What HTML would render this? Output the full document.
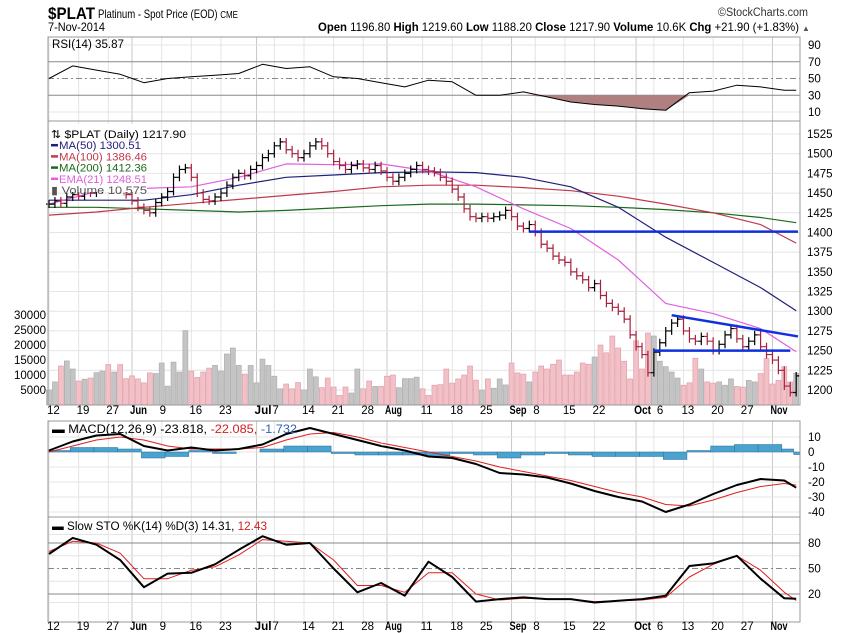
<!DOCTYPE html>
<html><head><meta charset="utf-8"><style>
body{margin:0;background:#fff;}
svg{display:block;font-family:"Liberation Sans",sans-serif;}
</style></head><body>
<svg id="c" width="850" height="633" viewBox="0 0 850 633" xmlns="http://www.w3.org/2000/svg">
<defs><clipPath id="plotclip"><rect x="48" y="0" width="752" height="633"/></clipPath></defs>
<rect x="0" y="0" width="850" height="633" fill="#fff"/>
<g id="grid"></g>
<g id="vol"></g>
<g id="price"></g>
<g id="ind" clip-path="url(#plotclip)"></g>
<g id="frames"></g>
<g id="labels"></g>
<!-- header -->
<text x="48" y="19" font-size="17" font-weight="bold" textLength="47" lengthAdjust="spacingAndGlyphs">$PLAT</text>
<text x="98" y="18" font-size="12" textLength="140" lengthAdjust="spacingAndGlyphs">Platinum  - Spot Price (EOD) <tspan font-size="10">CME</tspan></text>
<text x="48" y="31" font-size="12" textLength="57" lengthAdjust="spacingAndGlyphs">7-Nov-2014</text>
<text x="718" y="16" font-size="11.5" textLength="90" lengthAdjust="spacingAndGlyphs" fill="#333">©StockCharts.com</text>
<text x="318" y="31" font-size="12" textLength="481" lengthAdjust="spacingAndGlyphs"><tspan font-weight="bold">Open</tspan> 1196.80 <tspan font-weight="bold">High</tspan> 1219.60 <tspan font-weight="bold">Low</tspan> 1188.20 <tspan font-weight="bold">Close</tspan> 1217.90 <tspan font-weight="bold">Volume</tspan> 10.6K <tspan font-weight="bold">Chg</tspan> +21.90 (+1.83%)</text>
<text x="802" y="31" font-size="8" fill="#555">▲</text>
</svg>
<script>
const closes=[1436,1440,1437,1445,1448,1446,1452,1450,1455,1458,1456,1460,1455,1448,
1440,1432,1428,1425,1438,1445,1452,1470,1480,1482,1470,1450,1442,1440,1445,1450,1460,1470,1475,1472,1480,
1485,1495,1500,1510,1515,1505,1500,1495,1500,1510,1515,1510,1500,1490,1485,1480,1485,1487,1482,1480,1485,1478,
1470,1465,1470,1475,1480,1485,1480,1478,1476,1470,1465,1455,1445,1430,1420,1418,1420,1418,1420,1422,1428,
1420,1408,1405,1410,1400,1385,1380,1370,1365,1362,1350,1345,1340,1330,1335,1320,1310,1305,1300,1290,1270,
1255,1245,1222,1248,1260,1275,1285,1290,1275,1265,1262,1268,1262,1250,1258,1270,1278,1265,1255,1262,1270,1255,1245,
1238,1225,1205,1196.8,1217.9];
const volumes=[5,7.7,13,14.7,12,8,8.6,9,10.8,11.3,13.5,11,13.5,8.8,9.7,8.7,7.4,10.7,10.5,14,6.3,14.3,11,24.8,11.3,9.2,11,12.3,13.2,11.3,17,19,13.2,10.3,13.2,7.4,15.3,13.2,9.6,5.4,7,5.4,7.5,5,12,9.4,5.8,9,6,3.2,6,4,12,5.4,8,6.2,6.2,9.6,10,5.8,8.8,8.8,9.3,5.4,3.2,
6.6,6.8,12,7.3,8.7,10,13,8.3,5,8.7,5.6,8.7,6.7,14,10.7,10.3,7.7,11,13,12,13.6,15,10,10,11,14,13.6,16,20,17.4,23,19,14.6,8.7,21.4,12,24,23,14.6,12.8,11,9,6.6,7.4,15.6,12,7.7,7.3,7.7,6.6,8.7,6.2,6,8.2,7.7,10.5,15.5,7,8.2,12.8,7.7,10.6];
const ma50=[1441,1441,1441,1448,1460,1470,1473,1476,1477,1476,1470,1458,1432,1394,1362,1330,1300.5];
const ma100=[1422,1426,1432,1437,1442,1447,1452,1458,1460,1460,1457,1453,1446,1436,1425,1410,1386.5];
const ma200=[1432,1432,1430,1428,1426,1428,1431,1434,1436,1436,1435,1434,1432,1429,1425,1419,1412.4];
const ema21=[1436,1452,1456,1458,1470,1487,1486,1487,1478,1458,1430,1405,1365,1310,1297,1278,1248.5];
const rsi=[50,65,60,55,45,50,52,54,56,67,62,64,52,50,45,40,48,46,30,30,34,28,22,19,17,14,12,33,35,42,40,36,35.9];
const macd=[1,7,11,12,4,1,3,1,2,5,12,16,12,8,4,1,-3,-4,-8,-14,-15,-17,-21,-26,-30,-33,-40,-35,-28,-22,-18,-19,-23.8];
const signal=[0,4,8,10,8,4,2,2,2,3,8,12,13,10,6,3,0,-3,-6,-10,-13,-16,-19,-23,-27,-30,-35,-36,-32,-27,-23,-21,-22.1];
const stoK=[67,86,78,60,28,44,45,55,72,88,78,80,50,22,33,18,58,40,11,14,16,14,14,10,12,14,18,53,56,65,38,15,14.3];
const stoD=[70,82,80,68,38,38,48,52,66,84,82,80,60,30,30,22,45,45,20,13,15,14,14,11,12,13,16,40,55,65,48,22,12.4];
const tickIdx=[0,5,10,14,19,24,29,35,38,43,48,53,57,63,68,73,78,82,87,92,99,102,107,112,117,122];
const tickText=["12","19","27","Jun","9","16","23","Jul","7","14","21","28","Aug","11","18","25","Sep","8","15","22","Oct","6","13","20","27","Nov"];
const priceTicks=[1200,1225,1250,1275,1300,1325,1350,1375,1400,1425,1450,1475,1500,1525];
const volTicks=[5000,10000,15000,20000,25000,30000];
const rsiTicks=[90,70,50,30,10];
const macdTicks=[10,0,-10,-20,-30,-40];
const stoTicks=[80,50,20];
const resLine=[1401];const supLine=[1250];const trendPts=[1295,1268];

const NS="http://www.w3.org/2000/svg";
const L=48,R=800;
const xi=i=>49+5.93*i;
const py=p=>134+(1525-p)*0.7877;
const vy=v=>405-v*3;
const ry=v=>45+(90-v)*0.8375;
const my=v=>452-v*1.5;
const sy=v=>543+(80-v)*0.85;
const sIdx=[];for(let k=0;k<=124;k+=4)sIdx.push(k);sIdx.push(126);
const mIdx=[];for(let k=0;k<=120;k+=8)mIdx.push(k);mIdx.push(126);
function mk(tag,at,parent){const e=document.createElementNS(NS,tag);for(const k in at)e.setAttribute(k,at[k]);document.getElementById(parent).appendChild(e);return e;}
function txt(s,at,parent){const e=mk('text',at,parent);e.textContent=s;return e;}

const panels=[[37,121],[121,405],[421,517],[517,622]];
tickIdx.forEach((ti,k)=>{const x=xi(ti);const month=isNaN(+tickText[k]);
 panels.forEach(p=>{const g=mk('line',{x1:x,x2:x,y1:p[0],y2:p[1],stroke:month?'#c8c8c8':'#e4e4e4','stroke-width':1},'grid');
 
 });
 [414,630].forEach(yy=>{const at={x:x-2,y:yy,'font-size':11.5,'font-weight':month?'bold':'normal'};
 if(month){at.textLength=17;at.lengthAdjust='spacingAndGlyphs';}
 if(tickText[k]=="6"&&k==21)at.x=x+3;
 const t=txt(tickText[k],at,'labels');
 
 });
});
priceTicks.forEach(p=>{const g=mk('line',{x1:L,x2:R,y1:py(p),y2:py(p),stroke:'#e4e4e4'},'grid');
 
 
 const t=txt(p,{x:807,y:py(p)+4,'font-size':11.5},'labels');
 
 });
volTicks.forEach(v=>{const t=txt(v,{x:46,y:vy(v/1000)+4,'font-size':11.5,'text-anchor':'end'},'labels');
 
 });
rsiTicks.forEach(v=>{const t=txt(v,{x:808,y:ry(v)+4,'font-size':11.5},'labels');
 
 
 const g=mk('line',{x1:L,x2:R,y1:ry(v),y2:ry(v),stroke:(v==70||v==30||v==50)?'#888':'#e4e4e4','stroke-dasharray':v==50?'6,3,2,3':'none'},'grid');
 
 });
macdTicks.forEach(v=>{const t=txt(v,{x:808,y:my(v)+4,'font-size':11.5},'labels');
 
 
 const g=mk('line',{x1:L,x2:R,y1:my(v),y2:my(v),stroke:'#e4e4e4'},'grid');
 
 });
[90,65,35,10].forEach(v=>{const g=mk('line',{x1:L,x2:R,y1:sy(v),y2:sy(v),stroke:'#e4e4e4'},'grid');
 
 });
stoTicks.forEach(v=>{const t=txt(v,{x:808,y:sy(v)+4,'font-size':11.5},'labels');
 
 
 const g=mk('line',{x1:L,x2:R,y1:sy(v),y2:sy(v),stroke:'#888','stroke-dasharray':v==50?'6,3,2,3':'none'},'grid');
 
 });

volumes.forEach((v,i)=>{const up=i==0||closes[i]>=closes[i-1];
 const r=mk('rect',{x:xi(i)-2.5,y:vy(v),width:5,height:405-vy(v),fill:up?'#c4c4c4':'#f2c0c6',stroke:up?'#a8a8a8':'#dc9aa4','stroke-width':0.6},'vol');
 
 });
function poly(arr,idx,yf,col,w,parent,name){const pts=arr.map((v,k)=>xi(idx[k]).toFixed(1)+','+yf(v).toFixed(1)).join(' ');
 const p=mk('polyline',{points:pts,fill:'none',stroke:col,'stroke-width':w,'stroke-linejoin':'round'},parent);
 
 return p;}
poly(ma200,mIdx,py,'#1a6a1a',1.2,'price','ma200-line');
poly(ma100,mIdx,py,'#c03a4a',1.2,'price','ma100-line');
poly(ma50,mIdx,py,'#20207a',1.2,'price','ma50-line');
poly(ema21,mIdx,py,'#e060e0',1.2,'price','ema21-line');
closes.forEach((c,i)=>{const o=i?closes[i-1]:c;const h=Math.max(o,c)+5,l=Math.min(o,c)-5;const up=i==0||c>=o;const col=up?'#000':'#a8203c';const x=xi(i);
 const g=mk('path',{d:`M${x},${py(h)}V${py(l)}M${x-3},${py(o)}H${x}M${x},${py(c)}H${x+3}`,stroke:col,'stroke-width':1.2,fill:'none'},'price');
 
 });
let t1=mk('line',{x1:xi(81),x2:R-2,y1:py(resLine[0]),y2:py(resLine[0]),stroke:'#1030e0','stroke-width':2.5},'price');


let t2=mk('line',{x1:xi(102),x2:xi(125),y1:py(supLine[0]),y2:py(supLine[0]),stroke:'#1030e0','stroke-width':2.5},'price');


let t3=mk('line',{x1:xi(105),x2:R-2,y1:py(trendPts[0]),y2:py(trendPts[1]),stroke:'#1030e0','stroke-width':2.5},'price');



let fp='M'+xi(sIdx[0])+','+ry(30);
rsi.forEach((v,k)=>{fp+=' L'+xi(sIdx[k]).toFixed(1)+','+ry(Math.min(v,30)).toFixed(1);});
fp+=' L'+xi(126)+','+ry(30)+'Z';
let rf=mk('path',{d:fp,fill:'#b08080',stroke:'none'},'ind');


poly(rsi,sIdx,ry,'#000',1,'ind','rsi-line');
macd.forEach((v,k)=>{const hv=v-signal[k];const x=xi(sIdx[k]);const w=5.93*(k<sIdx.length-1?(sIdx[k+1]-sIdx[k]):1);
 const r=mk('rect',{x:x-2.5,y:Math.min(my(hv),my(0)),width:w,height:Math.abs(my(hv)-my(0)),fill:'#4aa3cf',stroke:'#2a6f96','stroke-width':0.5},'ind');
 
 });
poly(signal,sIdx,my,'#e02020',1,'ind','macd-signal-line');
poly(macd,sIdx,my,'#000',2,'ind','macd-line');
poly(stoD,sIdx,sy,'#e02020',1,'ind','sto-d-line');
poly(stoK,sIdx,sy,'#000',2,'ind','sto-k-line');

panels.forEach((p,k)=>{const r=mk('rect',{x:L,y:p[0],width:R-L,height:p[1]-p[0],fill:'none',stroke:'#999'},'frames');
 
 });
function legend(lines,x,y,parent,name){lines.forEach((ln,k)=>{const yy=y+k*11.2;
 if(ln[2]){const d=mk('line',{x1:x,x2:x+7,y1:yy-4,y2:yy-4,stroke:ln[1],'stroke-width':2.5},parent);
 
 }
 const t=txt(ln[0],{x:x+(ln[2]?8:0),y:yy,'font-size':11,fill:ln[1],textLength:ln[3],lengthAdjust:'spacingAndGlyphs'},parent);
 
 });}
let bg=mk('rect',{x:49,y:124,width:98,height:68,fill:'#fff'},'labels');


legend([["⇅ $PLAT (Daily) 1217.90","#000",0,135],["MA(50) 1300.51","#20207a",1,82],["MA(100) 1386.46","#c03a4a",1,88],["MA(200) 1412.36","#1a6a1a",1,88],["EMA(21) 1248.51","#e060e0",1,88],["▮ Volume 10,575","#555",0,96]],51,138,'labels','legend-entry');
let rl=txt("RSI(14) 35.87",{x:52,y:48,'font-size':11.5,textLength:72,lengthAdjust:'spacingAndGlyphs'},'labels');


let ml=txt("",{x:52,y:433,'font-size':11.5,textLength:245,lengthAdjust:'spacingAndGlyphs'},'labels');
ml.innerHTML='<tspan>▬ MACD(12,26,9) -23.818,</tspan><tspan fill="#d02020"> -22.085,</tspan><tspan fill="#3060c0"> -1.732</tspan>';


let sl=txt("",{x:52,y:530,'font-size':11.5,textLength:215,lengthAdjust:'spacingAndGlyphs'},'labels');
sl.innerHTML='<tspan>▬ Slow STO %K(14) %D(3) 14.31,</tspan><tspan fill="#d02020"> 12.43</tspan>';


</script>
</body></html>
